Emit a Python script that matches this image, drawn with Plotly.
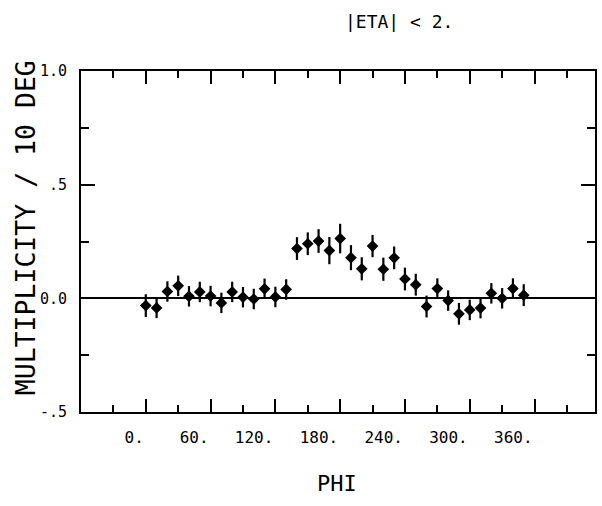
import plotly.graph_objects as go

# ---- data ----
phi = [0, 10, 20, 30, 40, 50, 60, 70, 80, 90, 100, 110, 120, 130, 140, 150, 160, 170,
       180, 190, 200, 210, 220, 230, 240, 250, 260, 270, 280, 290, 300, 310, 320, 330, 340, 350]
multiplicity = [-0.032, -0.042, 0.030, 0.055, 0.009, 0.028, 0.010, -0.020, 0.028, 0.005,
                -0.003, 0.042, 0.006, 0.039, 0.219, 0.240, 0.252, 0.210, 0.263, 0.179,
                0.130, 0.230, 0.128, 0.178, 0.085, 0.060, -0.036, 0.043, -0.010, -0.068,
                -0.051, -0.043, 0.022, 0.000, 0.043, 0.014]
errors = [0.050, 0.045, 0.045, 0.045, 0.045, 0.045, 0.045, 0.045, 0.045, 0.045,
          0.045, 0.045, 0.045, 0.045, 0.050, 0.050, 0.052, 0.060, 0.065, 0.055,
          0.051, 0.049, 0.051, 0.050, 0.050, 0.048, 0.048, 0.045, 0.045, 0.048,
          0.045, 0.045, 0.045, 0.045, 0.045, 0.048]

x_tick_vals = [0, 60, 120, 180, 240, 300, 360]
x_tick_text = ["0.", "60.", "120.", "180.", "240.", "300.", "360."]
x_minor_vals = [-30, 30, 90, 150, 210, 270, 330, 390]
y_tick_vals = [-0.5, 0.0, 0.5, 1.0]
y_tick_text = ["-.5", "0.0", ".5", "1.0"]
y_minor_vals = [-0.25, 0.25, 0.75]

FONT = "DejaVu Sans Mono"

fig = go.Figure()
fig.add_trace(go.Scatter(
    x=phi, y=multiplicity, mode="markers",
    marker=dict(symbol="diamond", size=9, color="black"),
    error_y=dict(type="data", array=errors, visible=True, color="black",
                 thickness=2.2, width=0),
    showlegend=False,
))

fig.update_layout(
    width=602, height=506, autosize=False,
    margin=dict(l=81, r=5, t=71, b=94),
    paper_bgcolor="white", plot_bgcolor="white",
    font=dict(family=FONT, color="black"),
    xaxis=dict(
        range=[-60, 416], showgrid=False, zeroline=False,
        showline=True, linecolor="black", linewidth=2, mirror="ticks",
        tickmode="array", tickvals=x_tick_vals, ticktext=x_tick_text,
        ticks="inside", ticklen=13, tickwidth=2, tickcolor="black",
        ticklabelposition="outside left", ticklabelstandoff=10,
        tickfont=dict(family=FONT, size=16, color="black"),
        minor=dict(tickmode="array", tickvals=x_minor_vals, ticks="inside",
                   ticklen=7, tickwidth=2, tickcolor="black", showgrid=False),
    ),
    yaxis=dict(
        range=[-0.5, 1.0], showgrid=False,
        zeroline=True, zerolinecolor="black", zerolinewidth=2,
        showline=True, linecolor="black", linewidth=2, mirror="ticks",
        tickmode="array", tickvals=y_tick_vals, ticktext=y_tick_text,
        ticks="inside", ticklen=14, tickwidth=2, tickcolor="black",
        ticklabelstandoff=9,
        tickfont=dict(family=FONT, size=15, color="black"),
        minor=dict(tickmode="array", tickvals=y_minor_vals, ticks="inside",
                   ticklen=8, tickwidth=2, tickcolor="black", showgrid=False),
    ),
    annotations=[
        dict(text="|ETA| < 2.", xref="paper", yref="paper",
             x=(400 - 81) / 516, y=(412 - 22) / 341, xanchor="center", yanchor="middle",
             showarrow=False, font=dict(family=FONT, size=18, color="black")),
        dict(text="PHI", xref="paper", yref="paper",
             x=(338 - 81) / 516, y=(412 - 483) / 341, xanchor="center", yanchor="middle",
             showarrow=False, font=dict(family=FONT, size=22, color="black")),
        dict(text="MULTIPLICITY / 10 DEG", xref="paper", yref="paper",
             x=(25 - 81) / 516, y=(412 - 228) / 341, xanchor="center", yanchor="middle",
             textangle=-90, showarrow=False,
             font=dict(family=FONT, size=26.5, color="black")),
    ],
)

fig.write_html("out.html", config={"displayModeBar": False},
               post_script="document.body.style.margin='0';")
